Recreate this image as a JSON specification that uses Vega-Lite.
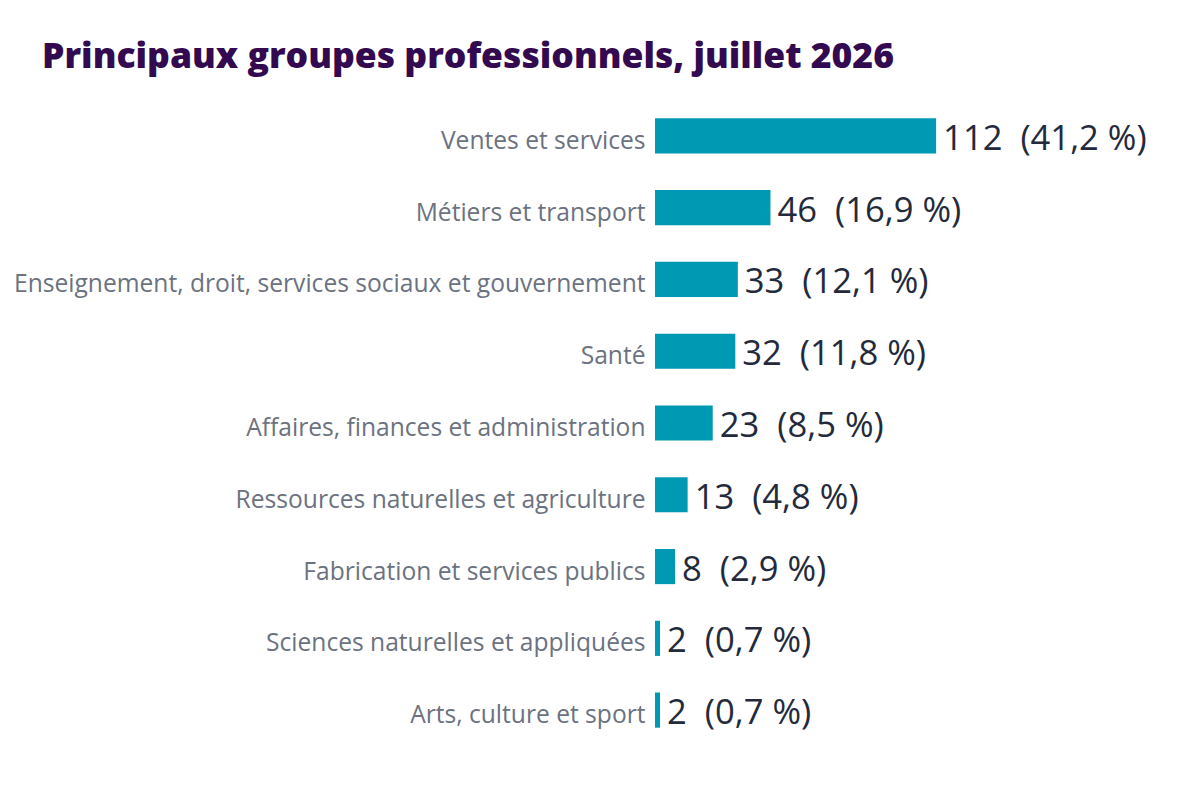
{
  "$schema": "https://vega.github.io/schema/vega-lite/v6.json",
  "width": 502,
  "height": 646,
  "autosize": "none",
  "padding": {"left": 655, "top": 100, "right": 23, "bottom": 54},
  "background": "white",
  "title": {
    "text": "Principaux groupes professionnels, juillet 2026",
    "anchor": "start",
    "frame": "group",
    "dx": -613,
    "dy": 33,
    "offset": 30,
    "baseline": "alphabetic",
    "font": "Open Sans",
    "fontWeight": 800,
    "fontSize": 35.5,
    "color": "#330a50"
  },
  "data": {
    "values": [
      {"group": "Ventes et services", "count": 112, "label": "112\u00a0 (41,2 %)"},
      {"group": "Métiers et transport", "count": 46, "label": "46\u00a0 (16,9 %)"},
      {"group": "Enseignement, droit, services sociaux et gouvernement", "count": 33, "label": "33\u00a0 (12,1 %)"},
      {"group": "Santé", "count": 32, "label": "32\u00a0 (11,8 %)"},
      {"group": "Affaires, finances et administration", "count": 23, "label": "23\u00a0 (8,5 %)"},
      {"group": "Ressources naturelles et agriculture", "count": 13, "label": "13\u00a0 (4,8 %)"},
      {"group": "Fabrication et services publics", "count": 8, "label": "8\u00a0 (2,9 %)"},
      {"group": "Sciences naturelles et appliquées", "count": 2, "label": "2\u00a0 (0,7 %)"},
      {"group": "Arts, culture et sport", "count": 2, "label": "2\u00a0 (0,7 %)"}
    ]
  },
  "encoding": {
    "y": {
      "field": "group",
      "type": "nominal",
      "sort": null,
      "scale": {"paddingInner": 0.51, "paddingOuter": 0.255},
      "axis": {
        "title": null,
        "domain": false,
        "ticks": false,
        "labelFont": "Open Sans",
        "labelFontSize": 24.6,
        "labelColor": "#6b7280",
        "labelPadding": 10,
        "labelLimit": 0,
        "labelBaseline": "alphabetic",
        "labelOffset": 13
      }
    }
  },
  "layer": [
    {
      "mark": {"type": "bar", "color": "#0099b4"},
      "encoding": {
        "x": {"field": "count", "type": "quantitative", "scale": {"domain": [0, 200]}, "axis": null}
      }
    },
    {
      "mark": {"type": "text", "align": "left", "baseline": "alphabetic", "dx": 7, "dy": 14, "font": "Open Sans", "fontSize": 34.6, "color": "#232a3b"},
      "encoding": {
        "x": {"field": "count", "type": "quantitative"},
        "text": {"field": "label"}
      }
    }
  ],
  "config": {"view": {"stroke": null}}
}
